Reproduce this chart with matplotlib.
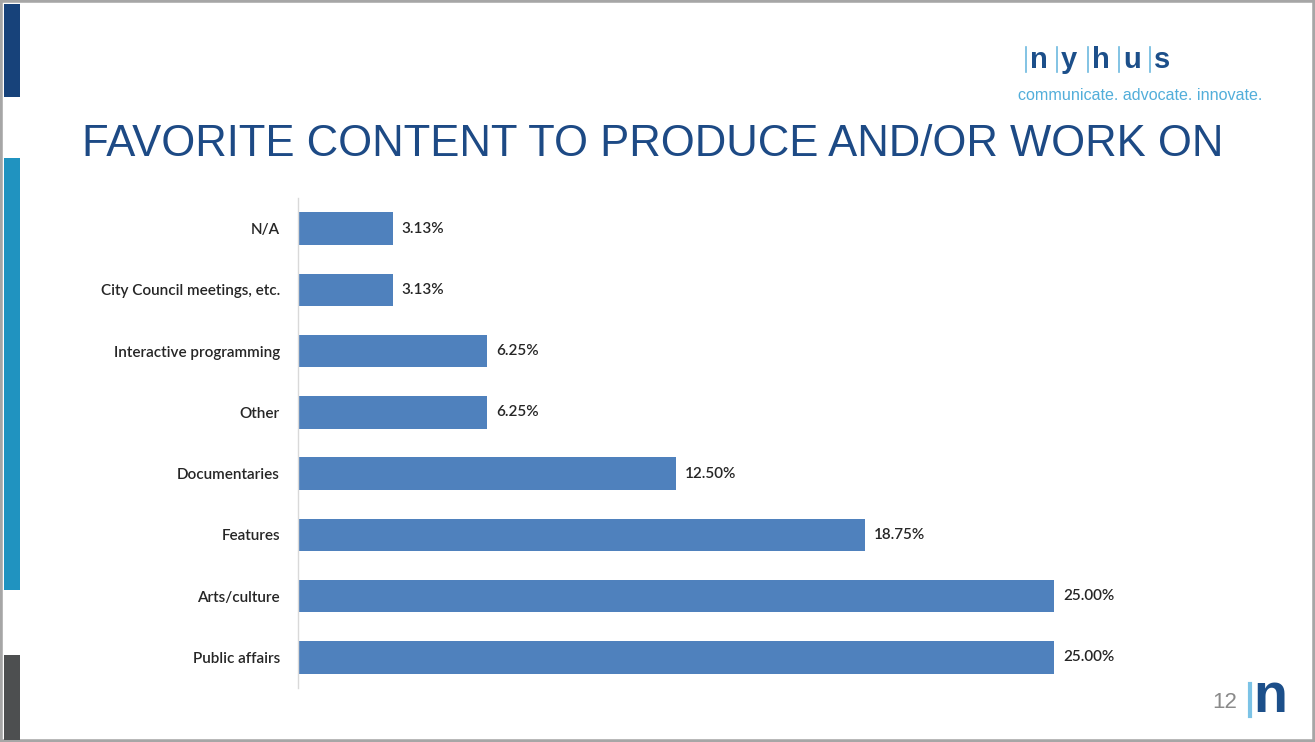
import matplotlib
matplotlib.use("Agg")
import matplotlib.pyplot as plt
from matplotlib.patches import Rectangle

categories = ["Public affairs", "Arts/culture", "Features", "Documentaries",
              "Other", "Interactive programming", "City Council meetings, etc.", "N/A"]
values = [25.00, 25.00, 18.75, 12.50, 6.25, 6.25, 3.13, 3.13]
value_labels = ["25.00%", "25.00%", "18.75%", "12.50%", "6.25%", "6.25%", "3.13%", "3.13%"]

W, H = 1315, 742
fig = plt.figure(figsize=(W / 100, H / 100), dpi=100)
fig.patch.set_facecolor("white")

def fx(px):
    return px / W

def fy(py):
    return 1 - py / H

# border frame
fig.add_artist(Rectangle((0, 0), 1, 1, transform=fig.transFigure, fill=False,
                         edgecolor="#A6A6A6", linewidth=4))
# left accent bars
fig.add_artist(Rectangle((fx(4), fy(97)), fx(16), (97 - 4) / H, transform=fig.transFigure,
                         color="#17427A", linewidth=0))
fig.add_artist(Rectangle((fx(4), fy(590)), fx(16), (590 - 158) / H, transform=fig.transFigure,
                         color="#2093C0", linewidth=0))
fig.add_artist(Rectangle((fx(4), fy(740)), fx(16), (740 - 655) / H, transform=fig.transFigure,
                         color="#4D4F50", linewidth=0))

# title
fig.text(fx(82), fy(145), "FAVORITE CONTENT TO PRODUCE AND/OR WORK ON", fontsize=31.4,
         color="#1D4A85", family="Liberation Sans", va="center", ha="left")

# logo
logo_letters = ["n", "y", "h", "u", "s"]
lx = 1030
for i, ch in enumerate(logo_letters):
    x = lx + i * 31
    fig.text(fx(x), fy(60), ch, fontsize=21, fontweight="bold", color="#1C4F8A",
             family="Liberation Sans", va="center", ha="left")
    fig.add_artist(plt.Line2D([fx(x - 4), fx(x - 4)], [fy(47), fy(72)], transform=fig.transFigure,
                              color="#6DB9DF", linewidth=1.2))
fig.text(fx(1018), fy(96), "communicate. advocate. innovate.", fontsize=11.6, color="#52AEDA",
         family="Liberation Sans", va="center", ha="left")

# page number and n logo
fig.text(fx(1237), fy(703), "12", fontsize=16, color="#8A8A8A", family="Liberation Sans",
         va="center", ha="right")
fig.add_artist(plt.Line2D([fx(1250), fx(1250)], [fy(684), fy(716)], transform=fig.transFigure,
                          color="#7CC3E6", linewidth=3))
fig.text(fx(1253), fy(698), "n", fontsize=40, fontweight="bold", color="#1C4F8A",
         family="Liberation Sans", va="center", ha="left")

# chart
ax = fig.add_axes([fx(298), fy(688), fx(1054) - fx(298), (688 - 198) / H])
y = list(range(len(categories)))
ax.barh(y, values, height=0.53, color="#4F81BD")
ax.set_xlim(0, 25)
ax.set_ylim(-0.5, len(categories) - 0.5)
ax.set_yticks(y)
ax.set_yticklabels(categories, family="Lato", fontsize=11, fontweight="semibold", color="#262626")
ax.tick_params(axis="y", length=0, pad=13)
ax.set_xticks([])
for s in ["top", "right", "bottom"]:
    ax.spines[s].set_visible(False)
ax.spines["left"].set_color("#D9D9D9")
ax.spines["left"].set_linewidth(1)
for yi, v, lab in zip(y, values, value_labels):
    ax.text(v + 0.3, yi, lab, va="center", ha="left", family="Lato", fontsize=11,
            fontweight="semibold", color="#262626", clip_on=False)

fig.savefig("out.png", dpi=100)
